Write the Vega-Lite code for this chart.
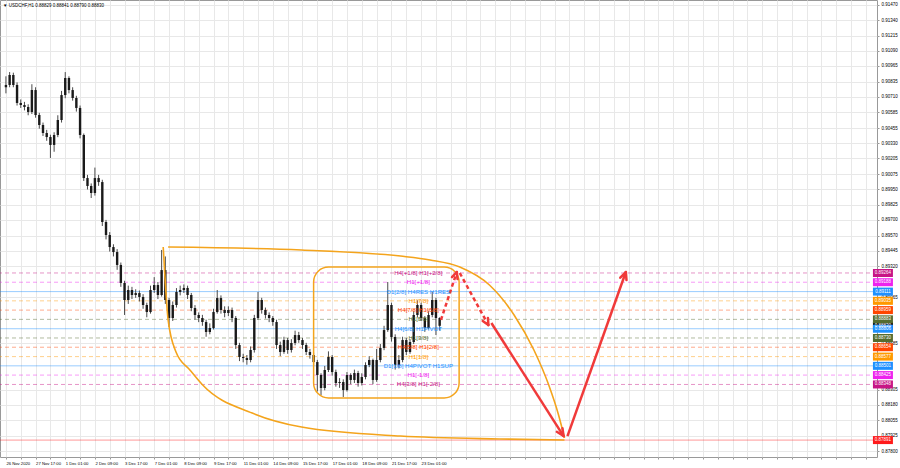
{
  "$schema": "https://vega.github.io/schema/vega-lite/v6.json",
  "autosize": {"type": "none"},
  "width": 877,
  "height": 457,
  "padding": {"left": 0, "top": 0, "right": 23, "bottom": 11},
  "background": "white",
  "title": {"text": "▼ USDCHF,H1  0.88829 0.88841 0.88790 0.88830", "anchor": "start", "frame": "group", "orient": "top", "offset": -7, "baseline": "top", "fontSize": 4.5, "fontWeight": "normal", "font": "Liberation Sans", "dx": 3, "color": "#000"},
  "config": {
    "view": {"stroke": "#999"},
    "legend": {"disable": true},
    "axis": {"labelFont": "Liberation Sans", "labelFontSize": 4.5, "labelColor": "#000", "gridColor": "#e8e8e8", "tickColor": "#999", "domain": false}
  },
  "resolve": {"axis": {"x": "independent", "y": "independent"}},
  "datasets": {
    "candles": [
      {"i":0,"o":0.90790,"h":0.90880,"l":0.90740,"c":0.90809},
      {"i":4,"o":0.90809,"h":0.90915,"l":0.90790,"c":0.90891},
      {"i":8,"o":0.90891,"h":0.90910,"l":0.90790,"c":0.90809},
      {"i":12,"o":0.90809,"h":0.90830,"l":0.90640,"c":0.90661},
      {"i":16,"o":0.90661,"h":0.90690,"l":0.90620,"c":0.90644},
      {"i":20,"o":0.90644,"h":0.90670,"l":0.90600,"c":0.90628},
      {"i":24,"o":0.90628,"h":0.90650,"l":0.90560,"c":0.90587},
      {"i":28,"o":0.90587,"h":0.90815,"l":0.90570,"c":0.90767},
      {"i":32,"o":0.90767,"h":0.90790,"l":0.90540,"c":0.90562},
      {"i":36,"o":0.90562,"h":0.90580,"l":0.90450,"c":0.90480},
      {"i":40,"o":0.90480,"h":0.90500,"l":0.90390,"c":0.90414},
      {"i":44,"o":0.90414,"h":0.90440,"l":0.90350,"c":0.90381},
      {"i":48,"o":0.90381,"h":0.90400,"l":0.90209,"c":0.90316},
      {"i":52,"o":0.90316,"h":0.90420,"l":0.90260,"c":0.90398},
      {"i":56,"o":0.90398,"h":0.90560,"l":0.90380,"c":0.90521},
      {"i":60,"o":0.90521,"h":0.90760,"l":0.90500,"c":0.90726},
      {"i":64,"o":0.90726,"h":0.90915,"l":0.90700,"c":0.90866},
      {"i":68,"o":0.90866,"h":0.90880,"l":0.90740,"c":0.90767},
      {"i":72,"o":0.90767,"h":0.90790,"l":0.90680,"c":0.90702},
      {"i":76,"o":0.90702,"h":0.90720,"l":0.90590,"c":0.90620},
      {"i":80,"o":0.90620,"h":0.90640,"l":0.90370,"c":0.90398},
      {"i":84,"o":0.90398,"h":0.90410,"l":0.90020,"c":0.90044},
      {"i":88,"o":0.90044,"h":0.90070,"l":0.89950,"c":0.89979},
      {"i":92,"o":0.89979,"h":0.90000,"l":0.89880,"c":0.89921},
      {"i":96,"o":0.89921,"h":0.90130,"l":0.89900,"c":0.90044},
      {"i":100,"o":0.90044,"h":0.90070,"l":0.89980,"c":0.90011},
      {"i":104,"o":0.90011,"h":0.90030,"l":0.89650,"c":0.89683},
      {"i":108,"o":0.89683,"h":0.89700,"l":0.89540,"c":0.89576},
      {"i":112,"o":0.89576,"h":0.89600,"l":0.89440,"c":0.89477},
      {"i":116,"o":0.89477,"h":0.89500,"l":0.89400,"c":0.89436},
      {"i":120,"o":0.89436,"h":0.89460,"l":0.89290,"c":0.89330},
      {"i":124,"o":0.89330,"h":0.89350,"l":0.89150,"c":0.89182},
      {"i":128,"o":0.89182,"h":0.89200,"l":0.88919,"c":0.89042},
      {"i":132,"o":0.89042,"h":0.89160,"l":0.89010,"c":0.89124},
      {"i":136,"o":0.89124,"h":0.89150,"l":0.89050,"c":0.89083},
      {"i":140,"o":0.89083,"h":0.89130,"l":0.89060,"c":0.89099},
      {"i":144,"o":0.89099,"h":0.89120,"l":0.89030,"c":0.89067},
      {"i":148,"o":0.89067,"h":0.89090,"l":0.88970,"c":0.89001},
      {"i":152,"o":0.89001,"h":0.89020,"l":0.88900,"c":0.88943},
      {"i":156,"o":0.88943,"h":0.89160,"l":0.88930,"c":0.89124},
      {"i":160,"o":0.89124,"h":0.89230,"l":0.89100,"c":0.89165},
      {"i":164,"o":0.89165,"h":0.89190,"l":0.89050,"c":0.89083},
      {"i":168,"o":0.89083,"h":0.89453,"l":0.89070,"c":0.89288},
      {"i":172,"o":0.89288,"h":0.89400,"l":0.89010,"c":0.89042},
      {"i":176,"o":0.89042,"h":0.89060,"l":0.88820,"c":0.88894},
      {"i":180,"o":0.88894,"h":0.89030,"l":0.88870,"c":0.89001},
      {"i":184,"o":0.89001,"h":0.89140,"l":0.88980,"c":0.89108},
      {"i":188,"o":0.89108,"h":0.89160,"l":0.89080,"c":0.89124},
      {"i":192,"o":0.89124,"h":0.89170,"l":0.89100,"c":0.89141},
      {"i":196,"o":0.89141,"h":0.89160,"l":0.89050,"c":0.89083},
      {"i":200,"o":0.89083,"h":0.89100,"l":0.88950,"c":0.88976},
      {"i":204,"o":0.88976,"h":0.89000,"l":0.88880,"c":0.88919},
      {"i":208,"o":0.88919,"h":0.88940,"l":0.88860,"c":0.88894},
      {"i":212,"o":0.88894,"h":0.88920,"l":0.88830,"c":0.88861},
      {"i":216,"o":0.88861,"h":0.88880,"l":0.88740,"c":0.88779},
      {"i":220,"o":0.88779,"h":0.88850,"l":0.88760,"c":0.88812},
      {"i":224,"o":0.88812,"h":0.88970,"l":0.88800,"c":0.88943},
      {"i":228,"o":0.88943,"h":0.89124,"l":0.88930,"c":0.89058},
      {"i":232,"o":0.89058,"h":0.89080,"l":0.88930,"c":0.88960},
      {"i":236,"o":0.88960,"h":0.88990,"l":0.88900,"c":0.88935},
      {"i":240,"o":0.88935,"h":0.88990,"l":0.88910,"c":0.88960},
      {"i":244,"o":0.88960,"h":0.88980,"l":0.88860,"c":0.88894},
      {"i":248,"o":0.88894,"h":0.88910,"l":0.88640,"c":0.88672},
      {"i":252,"o":0.88672,"h":0.88690,"l":0.88540,"c":0.88574},
      {"i":256,"o":0.88574,"h":0.88600,"l":0.88530,"c":0.88565},
      {"i":260,"o":0.88565,"h":0.88590,"l":0.88510,"c":0.88549},
      {"i":264,"o":0.88549,"h":0.88660,"l":0.88530,"c":0.88631},
      {"i":268,"o":0.88631,"h":0.88920,"l":0.88610,"c":0.88894},
      {"i":272,"o":0.88894,"h":0.89108,"l":0.88880,"c":0.89042},
      {"i":276,"o":0.89042,"h":0.89060,"l":0.88930,"c":0.88960},
      {"i":280,"o":0.88960,"h":0.88980,"l":0.88890,"c":0.88919},
      {"i":284,"o":0.88919,"h":0.88940,"l":0.88860,"c":0.88894},
      {"i":288,"o":0.88894,"h":0.88910,"l":0.88830,"c":0.88861},
      {"i":292,"o":0.88861,"h":0.88880,"l":0.88640,"c":0.88672},
      {"i":296,"o":0.88672,"h":0.88700,"l":0.88580,"c":0.88615},
      {"i":300,"o":0.88615,"h":0.88740,"l":0.88600,"c":0.88713},
      {"i":304,"o":0.88713,"h":0.88730,"l":0.88600,"c":0.88631},
      {"i":308,"o":0.88631,"h":0.88720,"l":0.88610,"c":0.88689},
      {"i":312,"o":0.88689,"h":0.88790,"l":0.88670,"c":0.88754},
      {"i":316,"o":0.88754,"h":0.88780,"l":0.88690,"c":0.88713},
      {"i":320,"o":0.88713,"h":0.88730,"l":0.88640,"c":0.88672},
      {"i":324,"o":0.88672,"h":0.88690,"l":0.88590,"c":0.88615},
      {"i":328,"o":0.88615,"h":0.88640,"l":0.88560,"c":0.88590},
      {"i":332,"o":0.88590,"h":0.88610,"l":0.88500,"c":0.88532},
      {"i":336,"o":0.88532,"h":0.88550,"l":0.88290,"c":0.88426},
      {"i":340,"o":0.88426,"h":0.88440,"l":0.88261,"c":0.88319},
      {"i":344,"o":0.88319,"h":0.88500,"l":0.88300,"c":0.88467},
      {"i":348,"o":0.88467,"h":0.88620,"l":0.88450,"c":0.88574},
      {"i":352,"o":0.88574,"h":0.88590,"l":0.88420,"c":0.88450},
      {"i":356,"o":0.88450,"h":0.88470,"l":0.88330,"c":0.88360},
      {"i":360,"o":0.88360,"h":0.88400,"l":0.88320,"c":0.88368},
      {"i":364,"o":0.88368,"h":0.88390,"l":0.88245,"c":0.88302},
      {"i":368,"o":0.88302,"h":0.88450,"l":0.88290,"c":0.88426},
      {"i":372,"o":0.88426,"h":0.88440,"l":0.88350,"c":0.88385},
      {"i":376,"o":0.88385,"h":0.88470,"l":0.88360,"c":0.88442},
      {"i":380,"o":0.88442,"h":0.88460,"l":0.88330,"c":0.88360},
      {"i":384,"o":0.88360,"h":0.88440,"l":0.88340,"c":0.88409},
      {"i":388,"o":0.88409,"h":0.88530,"l":0.88390,"c":0.88508},
      {"i":392,"o":0.88508,"h":0.88580,"l":0.88490,"c":0.88549},
      {"i":396,"o":0.88549,"h":0.88560,"l":0.88350,"c":0.88385},
      {"i":400,"o":0.88385,"h":0.88640,"l":0.88370,"c":0.88549},
      {"i":404,"o":0.88549,"h":0.88680,"l":0.88530,"c":0.88648},
      {"i":408,"o":0.88648,"h":0.88830,"l":0.88630,"c":0.88795},
      {"i":412,"o":0.88795,"h":0.89190,"l":0.88780,"c":0.89001},
      {"i":416,"o":0.89001,"h":0.89020,"l":0.88700,"c":0.88738},
      {"i":420,"o":0.88738,"h":0.88760,"l":0.88470,"c":0.88508},
      {"i":424,"o":0.88508,"h":0.88590,"l":0.88480,"c":0.88549},
      {"i":428,"o":0.88549,"h":0.88740,"l":0.88530,"c":0.88713},
      {"i":432,"o":0.88713,"h":0.88730,"l":0.88590,"c":0.88615},
      {"i":436,"o":0.88615,"h":0.88720,"l":0.88600,"c":0.88697},
      {"i":440,"o":0.88697,"h":0.88950,"l":0.88680,"c":0.88919},
      {"i":444,"o":0.88919,"h":0.89040,"l":0.88900,"c":0.89001},
      {"i":448,"o":0.89001,"h":0.89020,"l":0.88870,"c":0.88894},
      {"i":452,"o":0.88894,"h":0.88910,"l":0.88780,"c":0.88812},
      {"i":456,"o":0.88812,"h":0.88950,"l":0.88800,"c":0.88919},
      {"i":460,"o":0.88919,"h":0.89108,"l":0.88900,"c":0.89042},
      {"i":464,"o":0.89042,"h":0.89060,"l":0.88754,"c":0.88894},
      {"i":468,"o":0.88894,"h":0.88900,"l":0.88790,"c":0.88830}
    ],
    "levels": [
      {"p":0.88830,"h1":"bid","label":""},
      {"p":0.89264,"h1":"+2/8","label":"H4[+1/8] H1[+2/8]"},
      {"p":0.89188,"h1":"+1/8","label":"H1[+1/8]"},
      {"p":0.89111,"h1":"8/8","label":"D1[2/8] H4RES H1RES"},
      {"p":0.89035,"h1":"7/8","label":"H1[7/8]"},
      {"p":0.88959,"h1":"6/8","label":"H4[7/8] H1[6/8]"},
      {"p":0.88883,"h1":"5/8","label":"H1[5/8]"},
      {"p":0.88806,"h1":"4/8","label":"H4[6/8] H1PIVOT"},
      {"p":0.88730,"h1":"3/8","label":"H1[3/8]"},
      {"p":0.88654,"h1":"2/8","label":"H4[5/8] H1[2/8]"},
      {"p":0.88577,"h1":"1/8","label":"H1[1/8]"},
      {"p":0.88501,"h1":"0/8","label":"D1[1/8] H4PIVOT H1SUP"},
      {"p":0.88425,"h1":"-1/8","label":"H1[-1/8]"},
      {"p":0.88348,"h1":"-2/8","label":"H4[3/8] H1[-2/8]"},
      {"p":0.87891,"h1":"target","label":""}
    ],
    "box": [{"i1":332,"i2":489,"p1":0.89313,"p2":0.88237}],
    "curve": [
      {"seg":"top","i":175.0,"p":0.89477},
      {"seg":"top","i":319.0,"p":0.89453},
      {"seg":"top","i":425.7,"p":0.89403},
      {"seg":"top","i":457.7,"p":0.89371},
      {"seg":"top","i":489.7,"p":0.89313},
      {"seg":"top","i":521.7,"p":0.89165},
      {"seg":"top","i":548.3,"p":0.88919},
      {"seg":"top","i":569.7,"p":0.88631},
      {"seg":"top","i":585.7,"p":0.88343},
      {"seg":"top","i":596.3,"p":0.88097},
      {"seg":"top","i":602.7,"p":0.87908},
      {"seg":"bowl","i":169.7,"p":0.89477},
      {"seg":"bowl","i":171.8,"p":0.89206},
      {"seg":"bowl","i":175.0,"p":0.88878},
      {"seg":"bowl","i":183.5,"p":0.88615},
      {"seg":"bowl","i":198.5,"p":0.88467},
      {"seg":"bowl","i":212.3,"p":0.88343},
      {"seg":"bowl","i":265.7,"p":0.88113},
      {"seg":"bowl","i":319.0,"p":0.87998},
      {"seg":"bowl","i":425.7,"p":0.87924},
      {"seg":"bowl","i":532.3,"p":0.87900},
      {"seg":"bowl","i":602.7,"p":0.87892}
    ],
    "shafts": [
      {"kind":"dash","i":469.4,"p":0.88878,"i2":486.5,"p2":0.89272},
      {"kind":"dash","i":489.7,"p":0.89264,"i2":520.6,"p2":0.88836},
      {"kind":"solid","i":523.8,"p":0.88853,"i2":601.7,"p2":0.87924},
      {"kind":"solid","i":605.9,"p":0.87924,"i2":668.9,"p2":0.89272}
    ],
    "heads": [
      {"i":486.5,"p":0.89272,"i2":481.3,"p2":0.89230},
      {"i":486.5,"p":0.89272,"i2":487.3,"p2":0.89214},
      {"i":520.6,"p":0.88836,"i2":520.1,"p2":0.88894},
      {"i":520.6,"p":0.88836,"i2":514.5,"p2":0.88870},
      {"i":601.7,"p":0.87924,"i2":600.5,"p2":0.87989},
      {"i":601.7,"p":0.87924,"i2":594.4,"p2":0.87959},
      {"i":668.9,"p":0.89272,"i2":662.9,"p2":0.89225},
      {"i":668.9,"p":0.89272,"i2":669.6,"p2":0.89206}
    ]
  },
  "layer": [
    {
      "data": {"name": "levels"},
      "transform": [{"filter": "datum.h1 != 'bid'"}],
      "mark": {"type": "rule", "strokeWidth": 1, "opacity": 0.45},
      "encoding": {
        "y": {"field": "p", "type": "quantitative", "scale": {"domain": [0.87752, 0.91507], "nice": false, "zero": false},
          "axis": {"orient": "right", "title": null, "values": [0.91470,0.91340,0.91215,0.91090,0.90965,0.90835,0.90710,0.90585,0.90455,0.90330,0.90205,0.90075,0.89950,0.89825,0.89700,0.89570,0.89445,0.89320,0.89065,0.88685,0.88305,0.88180,0.88055,0.87925,0.87800], "format": ".5f", "labelPadding": 2, "tickSize": 2, "grid": true, "labelOverlap": false, "labelFlush": false}},
        "color": {"field": "h1", "type": "nominal", "scale": {"domain": ["+2/8","+1/8","8/8","7/8","6/8","5/8","4/8","3/8","2/8","1/8","0/8","-1/8","-2/8","target","bid"], "range": ["#c71585","#ee22ee","#1e90ff","#ff9900","#ff4500","#556b2f","#1e90ff","#556b2f","#ff4500","#ff9900","#1e90ff","#ee22ee","#c71585","#ff1a1a","#000000"]}},
        "strokeDash": {"field": "h1", "type": "nominal", "scale": {"domain": ["+2/8","+1/8","8/8","7/8","6/8","5/8","4/8","3/8","2/8","1/8","0/8","-1/8","-2/8","target"], "range": [[4,3],[4,3],[1,0],[4,3],[4,3],[4,3],[1,0],[4,3],[4,3],[4,3],[1,0],[4,3],[4,3],[1,0]]}}
      }
    },
    {
      "data": {"name": "candles"},
      "mark": {"type": "rule", "color": "#4a4a4a", "strokeWidth": 1},
      "encoding": {
        "x": {"field": "i", "type": "quantitative", "scale": {"domain": [-1, 934.5], "nice": false, "zero": false},
          "axis": {"orient": "bottom", "title": null, "values": [0,16,32,48,64,80,96,112,128,144,160,176,192,208,224,240,256,272,288,304,320,336,352,368,384,400,416,432,448,464,480,496,512,528,544,560,576,592,608,624,640,656,672,688,704,720,736,752,768,784,800,816,832,848,864,880,896,912,928],
            "labelExpr": "(datum.value % 32 == 0 && datum.value <= 448) ? ['26 Nov 2020','27 Nov 17:00','1 Dec 01:00','2 Dec 09:00','3 Dec 17:00','7 Dec 01:00','8 Dec 09:00','9 Dec 17:00','11 Dec 01:00','14 Dec 09:00','15 Dec 17:00','17 Dec 01:00','18 Dec 09:00','21 Dec 17:00','23 Dec 01:00'][datum.value / 32] : ''",
            "labelFontSize": 4.2, "labelAlign": "left", "labelBaseline": "top", "labelPadding": 2, "labelOverlap": false, "labelFlush": false, "tickSize": 2, "grid": true}},
        "y": {"field": "l", "type": "quantitative", "scale": {"domain": [0.87752, 0.91507], "nice": false, "zero": false}, "axis": null},
        "y2": {"field": "h"}
      }
    },
    {
      "data": {"name": "candles"},
      "mark": {"type": "bar", "color": "#1a1a1a", "width": 2.4},
      "encoding": {
        "x": {"field": "i", "type": "quantitative", "scale": {"domain": [-1, 934.5], "nice": false, "zero": false}, "axis": null},
        "y": {"field": "o", "type": "quantitative", "scale": {"domain": [0.87752, 0.91507], "nice": false, "zero": false}, "axis": null},
        "y2": {"field": "c"}
      }
    },
    {
      "data": {"name": "box"},
      "mark": {"type": "rect", "cornerRadius": 15, "fillOpacity": 0, "stroke": "#f4a41c", "strokeWidth": 1.5},
      "encoding": {
        "x": {"field": "i1", "type": "quantitative", "scale": {"domain": [-1, 934.5], "nice": false, "zero": false}, "axis": null},
        "x2": {"field": "i2"},
        "y": {"field": "p1", "type": "quantitative", "scale": {"domain": [0.87752, 0.91507], "nice": false, "zero": false}, "axis": null},
        "y2": {"field": "p2"}
      }
    },
    {
      "data": {"name": "curve"},
      "mark": {"type": "line", "interpolate": "monotone", "color": "#f4a41c", "strokeWidth": 1.6},
      "encoding": {
        "x": {"field": "i", "type": "quantitative", "scale": {"domain": [-1, 934.5], "nice": false, "zero": false}, "axis": null},
        "y": {"field": "p", "type": "quantitative", "scale": {"domain": [0.87752, 0.91507], "nice": false, "zero": false}, "axis": null},
        "detail": {"field": "seg", "type": "nominal"}
      }
    },
    {
      "data": {"name": "shafts"},
      "transform": [{"filter": "datum.kind == 'dash'"}],
      "mark": {"type": "rule", "color": "#f03a3a", "strokeWidth": 2.5, "strokeDash": [4, 3]},
      "encoding": {
        "x": {"field": "i", "type": "quantitative", "scale": {"domain": [-1, 934.5], "nice": false, "zero": false}, "axis": null},
        "y": {"field": "p", "type": "quantitative", "scale": {"domain": [0.87752, 0.91507], "nice": false, "zero": false}, "axis": null},
        "x2": {"field": "i2"},
        "y2": {"field": "p2"}
      }
    },
    {
      "data": {"name": "shafts"},
      "transform": [{"filter": "datum.kind == 'solid'"}],
      "mark": {"type": "rule", "color": "#f03a3a", "strokeWidth": 2.5},
      "encoding": {
        "x": {"field": "i", "type": "quantitative", "scale": {"domain": [-1, 934.5], "nice": false, "zero": false}, "axis": null},
        "y": {"field": "p", "type": "quantitative", "scale": {"domain": [0.87752, 0.91507], "nice": false, "zero": false}, "axis": null},
        "x2": {"field": "i2"},
        "y2": {"field": "p2"}
      }
    },
    {
      "data": {"name": "heads"},
      "mark": {"type": "rule", "color": "#f03a3a", "strokeWidth": 2.5, "strokeCap": "round"},
      "encoding": {
        "x": {"field": "i", "type": "quantitative", "scale": {"domain": [-1, 934.5], "nice": false, "zero": false}, "axis": null},
        "y": {"field": "p", "type": "quantitative", "scale": {"domain": [0.87752, 0.91507], "nice": false, "zero": false}, "axis": null},
        "x2": {"field": "i2"},
        "y2": {"field": "p2"}
      }
    },
    {
      "data": {"name": "levels"},
      "transform": [{"filter": "datum.label != ''"}],
      "mark": {"type": "text", "fontSize": 6.1, "font": "Liberation Sans", "align": "center", "baseline": "middle"},
      "encoding": {
        "x": {"datum": 445, "type": "quantitative", "scale": {"domain": [-1, 934.5], "nice": false, "zero": false}, "axis": null},
        "y": {"field": "p", "type": "quantitative", "scale": {"domain": [0.87752, 0.91507], "nice": false, "zero": false}, "axis": null},
        "text": {"field": "label", "type": "nominal"},
        "color": {"field": "h1", "type": "nominal"}
      }
    },
    {
      "data": {"name": "levels"},
      "mark": {"type": "point", "shape": "M-1,-0.4H1V0.4H-1Z", "size": 400, "filled": true, "opacity": 1, "strokeWidth": 0},
      "encoding": {
        "x": {"datum": 946.3, "type": "quantitative", "scale": {"domain": [-1, 934.5], "nice": false, "zero": false}, "axis": null},
        "y": {"field": "p", "type": "quantitative", "scale": {"domain": [0.87752, 0.91507], "nice": false, "zero": false}, "axis": null},
        "color": {"field": "h1", "type": "nominal"}
      }
    },
    {
      "data": {"name": "levels"},
      "mark": {"type": "text", "fontSize": 4.5, "font": "Liberation Sans", "align": "center", "baseline": "middle", "color": "white"},
      "encoding": {
        "x": {"datum": 946.3, "type": "quantitative", "scale": {"domain": [-1, 934.5], "nice": false, "zero": false}, "axis": null},
        "y": {"field": "p", "type": "quantitative", "scale": {"domain": [0.87752, 0.91507], "nice": false, "zero": false}, "axis": null},
        "text": {"field": "p", "type": "quantitative", "format": ".5f"}
      }
    }
  ]
}
